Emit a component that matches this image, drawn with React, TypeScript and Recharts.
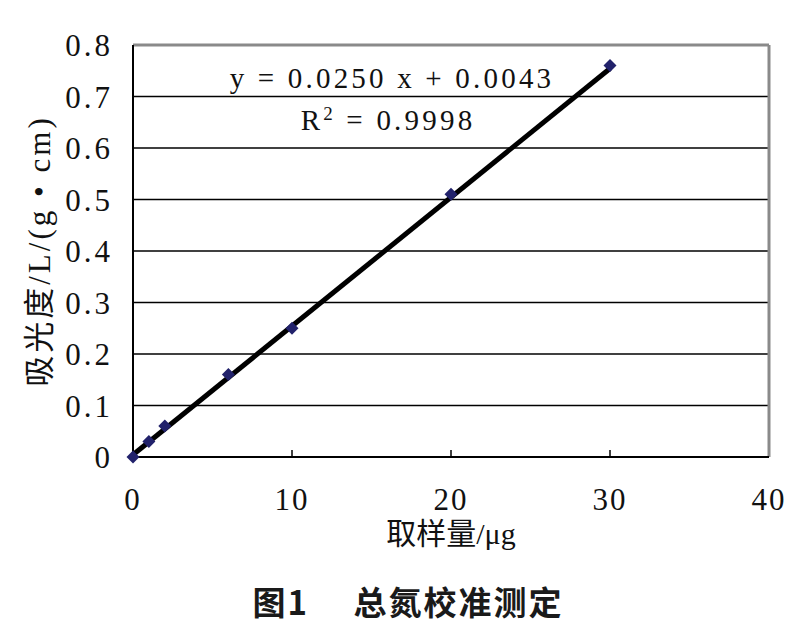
import { ComposedChart, Scatter, Line, XAxis, YAxis, CartesianGrid, ReferenceLine } from 'recharts';

// 取样量 (μg) vs 吸光度
const sampleX = [0, 1, 2, 6, 10, 20, 30];
const absorbance = [0, 0.03, 0.06, 0.16, 0.25, 0.51, 0.76];

// fitted trendline y = 0.0250x + 0.0043, drawn between its two ends
const trendX = [0, 30];
const trendY = [0.0043, 0.7543];

const xTicks = [0, 10, 20, 30, 40];
const yTicks = [0, 0.1, 0.2, 0.3, 0.4, 0.5, 0.6, 0.7, 0.8];

const points = sampleX.map((x, i) => ({ x, y: absorbance[i] }));
const trend = trendX.map((x, i) => ({ x, y: trendY[i] }));

const serif = '"Liberation Serif", "Noto Sans CJK SC", serif';

function Diamond(props: any) {
  const { cx, cy } = props;
  const r = 6.5;
  return (
    <polygon
      points={`${cx},${cy - r} ${cx + r},${cy} ${cx},${cy + r} ${cx - r},${cy}`}
      fill="#22226b"
    />
  );
}

function XTick(props: any) {
  const { x, y, payload } = props;
  const inner = payload.value !== 0 && payload.value !== 40;
  return (
    <g>
      {inner && <line x1={x} x2={x} y1={y} y2={y - 7} stroke="#000" strokeWidth={1.5} />}
      <text x={x} y={y + 42} textAnchor="middle" dominantBaseline="central"
        fontFamily={serif} fontSize={31} letterSpacing={2} fill="#111">
        {payload.value}
      </text>
    </g>
  );
}

export default function App() {
  return (
    <div style={{ position: 'relative', width: 784, height: 614, background: '#fff' }}>
      <ComposedChart
        width={784}
        height={560}
        data={points}
        margin={{ top: 37, right: 23, bottom: 51, left: 65 }}
      >
        <CartesianGrid vertical={false} stroke="#000" strokeWidth={1.5} horizontalValues={yTicks.slice(0, 8)} />
        <XAxis
          type="number"
          dataKey="x"
          domain={[0, 40]}
          ticks={xTicks}
          height={60}
          tickSize={0}
          tickMargin={0}
          tickLine={false}
          axisLine={{ stroke: '#000', strokeWidth: 2 }}
          tick={<XTick />}
          label={{
            value: '取样量/μg',
            position: 'insideBottom',
            offset: -27,
            style: { fontFamily: serif, fontSize: 30, fill: '#111' },
          }}
        />
        <YAxis
          type="number"
          dataKey="y"
          domain={[0, 0.8]}
          ticks={yTicks}
          width={60}
          tickLine={false}
          tickMargin={14}
          axisLine={{ stroke: '#000', strokeWidth: 2 }}
          tick={{ fontFamily: serif, fontSize: 31, fill: '#111', letterSpacing: 3 }}
          tickFormatter={(v: number) => (v === 0 ? '0' : v.toFixed(1))}
          label={{
            value: '吸光度/L/(g • cm)',
            angle: -90,
            position: 'insideLeft',
            offset: -34,
            style: { fontFamily: serif, fontSize: 31, fill: '#111', textAnchor: 'middle', letterSpacing: 3 },
          }}
        />
        <ReferenceLine y={0.8} stroke="#8a8a8a" strokeWidth={3} />
        <ReferenceLine x={40} stroke="#8a8a8a" strokeWidth={3} />
        <Scatter data={points} dataKey="y" shape={<Diamond />} isAnimationActive={false} />
        <Line
          data={trend}
          dataKey="y"
          type="linear"
          stroke="#000"
          strokeWidth={5}
          dot={false}
          activeDot={false}
          isAnimationActive={false}
        />
      </ComposedChart>

      <div
        style={{
          position: 'absolute', left: 0, width: 768, top: 52, textAlign: 'center',
          fontFamily: serif, fontSize: 29, letterSpacing: 3.2, color: '#111', lineHeight: '36px',
        }}
      >
        y = 0.0250 x + 0.0043
      </div>
      <div
        style={{
          position: 'absolute', left: 0, width: 760, top: 94, textAlign: 'center',
          fontFamily: serif, fontSize: 29, letterSpacing: 3.2, color: '#111', lineHeight: '36px',
        }}
      >
        R<sup style={{ fontSize: 19, verticalAlign: 'top', lineHeight: '24px' }}>2</sup> = 0.9998
      </div>

      <div
        style={{
          position: 'absolute', left: 0, width: 800, top: 573, textAlign: 'center',
          fontFamily: '"Noto Sans CJK SC", sans-serif', fontSize: 33, fontWeight: 700,
          color: '#1a1a1a', lineHeight: '40px', whiteSpace: 'pre', letterSpacing: 2,
        }}
      >
        图1　 总氮校准测定
      </div>
    </div>
  );
}
